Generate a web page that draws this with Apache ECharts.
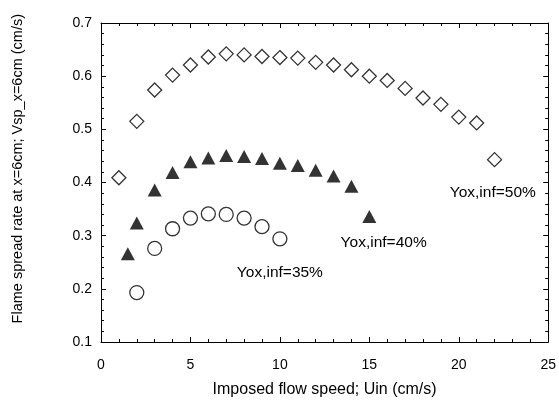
<!DOCTYPE html>
<html>
<head>
    <meta charset="utf-8">
    <title>Flame spread rate</title>
    <script src="https://cdn.jsdelivr.net/npm/echarts@6/dist/echarts.min.js"></script>
    <style>
        html, body { margin: 0; padding: 0; background: #fff; }
        #main { width: 559px; height: 403px; }
    </style>
</head>
<body>
    <div id="main"></div>
    <script type="text/javascript">
        // Yox,inf = 50% (open diamonds)
        var x50 = [1, 2, 3, 4, 5, 6, 7, 8, 9, 10, 11, 12, 13, 14, 15, 16, 17, 18, 19, 20, 21, 22];
        var y50 = [0.409, 0.515, 0.574, 0.602, 0.621, 0.636, 0.642, 0.640, 0.637, 0.635, 0.634, 0.626,
                   0.621, 0.612, 0.600, 0.592, 0.577, 0.559, 0.547, 0.523, 0.512, 0.443];
        // Yox,inf = 40% (filled triangles)
        var x40 = [1.5, 2, 3, 4, 5, 6, 7, 8, 9, 10, 11, 12, 13, 14, 15];
        var y40 = [0.266, 0.324, 0.386, 0.419, 0.439, 0.446, 0.451, 0.449, 0.445, 0.436, 0.432, 0.423,
                   0.412, 0.393, 0.336];
        // Yox,inf = 35% (open circles)
        var x35 = [2, 3, 4, 5, 6, 7, 8, 9, 10];
        var y35 = [0.193, 0.276, 0.313, 0.333, 0.341, 0.340, 0.333, 0.317, 0.294];

        var curveLabels = ['Yox,inf=50%', 'Yox,inf=40%', 'Yox,inf=35%'];
        var labelAt = [[21.9, 0.380], [15.8, 0.287], [10.0, 0.231]];

        var xTitle = 'Imposed flow speed; Uin (cm/s)';
        var yTitle = 'Flame spread rate at x=6cm; Vsp_x=6cm (cm/s)';

        function pairs(xs, ys) {
            var out = [];
            xs.forEach(function(x, i) { out.push([x, ys[i]]); });
            return out;
        }

        var font = 'Liberation Sans';
        var axisCommon = {
            axisLine: { onZero: false, lineStyle: { color: '#000', width: 1 } },
            axisTick: { show: true, inside: true, length: 5, lineStyle: { color: '#000' } },
            minorTick: { show: true, splitNumber: 5, length: 3, lineStyle: { color: '#000' } },
            splitLine: { show: false }
        };

        function makeAxis(extra) {
            return Object.assign({}, JSON.parse(JSON.stringify(axisCommon)), extra);
        }

        var chart = echarts.init(document.getElementById('main'));
        var option = {
            backgroundColor: '#fff',
            animation: false,
            grid: { left: 101, right: 7, top: 23, bottom: 57 },
            xAxis: [
                makeAxis({
                    type: 'value', min: 0, max: 25, interval: 5, position: 'bottom',
                    name: xTitle, nameLocation: 'middle', nameGap: 40,
                    nameTextStyle: { fontFamily: font, fontSize: 16, color: '#000' },
                    axisLabel: { margin: 16, fontFamily: font, fontSize: 14, color: '#000' }
                }),
                makeAxis({
                    type: 'value', min: 0, max: 25, interval: 5, position: 'top',
                    axisLabel: { show: false }
                })
            ],
            yAxis: [
                makeAxis({
                    type: 'value', min: 0.1, max: 0.7, interval: 0.1, position: 'left',
                    axisLabel: {
                        margin: 9, fontFamily: font, fontSize: 14, color: '#000',
                        formatter: function(v) { return v.toFixed(1); }
                    }
                }),
                makeAxis({
                    type: 'value', min: 0.1, max: 0.7, interval: 0.1, position: 'right',
                    axisLabel: { show: false }
                })
            ],
            series: [{
                name: curveLabels[0],
                type: 'scatter',
                symbol: 'diamond',
                symbolSize: 14,
                itemStyle: { color: '#fff', borderColor: '#000', borderWidth: 1.3 },
                data: pairs(x50, y50)
            }, {
                name: curveLabels[1],
                type: 'scatter',
                symbol: 'triangle',
                symbolSize: [14, 13],
                itemStyle: { color: '#000' },
                data: pairs(x40, y40)
            }, {
                name: curveLabels[2],
                type: 'scatter',
                symbol: 'circle',
                symbolSize: 14,
                itemStyle: { color: '#fff', borderColor: '#000', borderWidth: 1.3 },
                data: pairs(x35, y35)
            }]
        };
        chart.setOption(option);

        // curve labels placed in data coordinates, plus the rotated y title
        var graphics = curveLabels.map(function(txt, i) {
            var p = chart.convertToPixel({ gridIndex: 0 }, labelAt[i]);
            return {
                type: 'text', x: p[0], y: p[1],
                style: { text: txt, fill: '#000', font: '15.5px ' + font, textAlign: 'center', textVerticalAlign: 'middle' }
            };
        });
        var mid = chart.convertToPixel({ yAxisIndex: 0 }, 0.426);
        graphics.push({
            type: 'text', x: 18, y: mid, rotation: Math.PI / 2,
            style: { text: yTitle, fill: '#000', font: '14.5px ' + font, textAlign: 'center', textVerticalAlign: 'middle' }
        });
        chart.setOption({ graphic: graphics });
    </script>
</body>
</html>
